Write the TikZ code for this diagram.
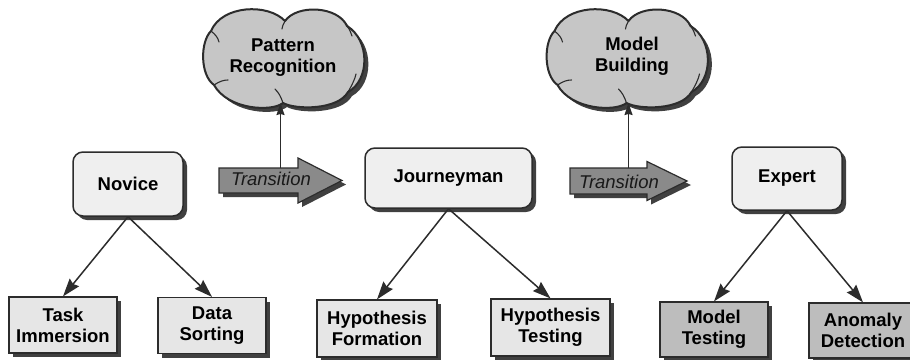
\documentclass[tikz,border=0pt]{standalone}
\usepackage{fontspec}
\setmainfont{Liberation Sans}
\usetikzlibrary{shadows,arrows.meta}

\definecolor{edge}{HTML}{2C2C2C}
\definecolor{shade}{HTML}{404040}
\definecolor{stagefill}{HTML}{EFEFEF}
\definecolor{taskfill}{HTML}{E6E6E6}
\definecolor{expertfill}{HTML}{BDBDBD}
\definecolor{cloudfill}{HTML}{C6C6C6}
\definecolor{transfill}{HTML}{8A8A8A}

\tikzset{
  solidshadow/.style={drop shadow={shadow xshift=4pt,shadow yshift=-4pt,fill=shade,opacity=1}},
  txt/.style={font=\fontsize{18.5}{21}\selectfont\bfseries,align=center,text=black},
  stage/.style={txt,draw=edge,line width=1.5pt,fill=stagefill,rounded corners=10pt,
    solidshadow,inner sep=0pt},
  task/.style={txt,draw=edge,line width=1.2pt,fill=taskfill,solidshadow,inner sep=0pt,
    minimum height=56pt},
  experttask/.style={task,fill=expertfill},
  idea text/.style={txt,inner sep=0pt},
  cloud line/.style={draw=edge,line width=2pt,fill=cloudfill,solidshadow,line join=round},
  crease/.style={draw=edge,line width=1.1pt,line cap=round},
  shift shape/.style={draw=edge,line width=1.2pt,fill=transfill,solidshadow,line join=miter},
  shift text/.style={font=\fontsize{18.5}{21}\selectfont\itshape,text=black!90,inner sep=0pt},
  branch/.style={draw=edge,line width=1.5pt,-{Stealth[length=18pt,width=12pt,inset=2pt]}},
  rise/.style={draw=edge,line width=1.3pt,-{Stealth[length=12pt,width=8pt,inset=1pt]}},
  % a lumpy cloud outline around the origin, with its bottom point named
  pics/idea cloud/.style={code={
    \path[cloud line] (-73,-26) .. controls (-62,-52) and (-16,-54) .. (1,-36)
      .. controls (13,-53) and (54,-51) .. (63,-31)
      .. controls (86,-17) and (86,23) .. (64,35)
      .. controls (54,53) and (12,53) .. (-1,46)
      .. controls (-12,55) and (-56,53) .. (-70,28)
      .. controls (-84,18) and (-84,-15) .. (-73,-26) -- cycle;
    \draw[crease] (-1,46) .. controls (-3,40) and (-5,36) .. (-9,32);
    \draw[crease] (-70,28) .. controls (-64,24) and (-60,23) .. (-56,23);
    \draw[crease] (-73,-26) .. controls (-68,-22) and (-66,-19) .. (-65,-15);
    \draw[crease] (64,35) .. controls (68,28) and (71,22) .. (72,17);
    \draw[crease] (63,-31) .. controls (66,-27) and (67,-24) .. (68,-21);
    \draw[crease] (1,-36) .. controls (-1,-32) and (-2,-30) .. (-2,-28);
    \coordinate (-bottom) at (-3,46);
  }},
}

\begin{document}
\begin{tikzpicture}[x=1pt,y=-1pt]
  \fill[white] (0,0) rectangle (910,359);
  \useasboundingbox (0,0) rectangle (910,359);

  % ideas reached through each transition
  \pic (pc) at (284,57) {idea cloud};
  \node[idea text] (pattern) at (283,58) {Pattern\\Recognition};
  \pic (mc) at (627.5,57) {idea cloud};
  \node[idea text] (model) at (632,56) {Model\\Building};

  % transition arrows
  \coordinate (t1) at (280.5,180.5);
  \coordinate (t2) at (628.5,181);
  \begin{scope}[shift={(t1)}]
    \path[shift shape] (-61.5,-12.5) -- (17.5,-12.5) -- (17.5,-22.5) -- (61.5,0)
      -- (17.5,22.5) -- (17.5,12.5) -- (-61.5,12.5) -- cycle;
    \coordinate (t1top) at (0,-12.5);
  \end{scope}
  \begin{scope}[shift={(t2)}]
    \path[shift shape] (-58.5,-13) -- (18.5,-13) -- (18.5,-19.5) -- (58.5,0)
      -- (18.5,19.5) -- (18.5,13) -- (-58.5,13) -- cycle;
    \coordinate (t2top) at (0,-13);
  \end{scope}
  \node[shift text] (t1text) at (271,178.5) {Transition};
  \node[shift text] (t2text) at (619,181.5) {Transition};

  \draw[rise] (t1top) -- (t1top |- pc-bottom);
  \draw[rise] (t2top) -- (t2top |- mc-bottom);

  % stages
  \node[stage,minimum width=110pt,minimum height=64pt] (novice) at (128,184) {Novice};
  \node[stage,minimum width=167pt,minimum height=60pt] (journey) at (448.5,178) {Journeyman};
  \node[stage,minimum width=110pt,minimum height=63pt] (expert) at (787,178.5) {Expert};

  % activities of each stage
  \node[task,minimum width=108pt] (immersion) at (63,325) {Task\\Immersion};
  \node[task,minimum width=108pt] (sorting) at (212,325.5) {Data\\Sorting};
  \node[task,minimum width=120pt,minimum height=57pt] (formation) at (377,328.5) {Hypothesis\\Formation};
  \node[task,minimum width=119pt,minimum height=57pt] (testing) at (550.5,327.5) {Hypothesis\\Testing};
  \node[experttask,minimum width=108pt,minimum height=55pt] (mtest) at (714,329.5) {Model\\Testing};
  \node[experttask,minimum width=108pt,minimum height=55pt] (anomaly) at (863,330.5) {Anomaly\\Detection};

  \draw[branch] (novice.south) -- (immersion.north);
  \draw[branch] (novice.south) -- (sorting.north);
  \draw[branch] (journey.south) -- (formation.north);
  \draw[branch] (journey.south) -- (testing.north);
  \draw[branch] (expert.south) -- (mtest.north);
  \draw[branch] (expert.south) -- (anomaly.north);
\end{tikzpicture}
\end{document}
